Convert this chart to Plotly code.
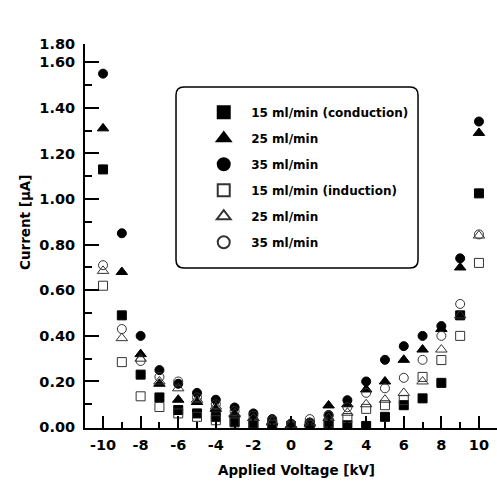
import plotly.graph_objects as go

voltage = [-10, -9, -8, -7, -6, -5, -4, -3, -2, -1, 0, 1, 2, 3, 4, 5, 6, 7, 8, 9, 10]

cond_15 = [1.13, 0.49, 0.23, 0.13, 0.075, 0.06, 0.045, 0.023, 0.015, 0.01, 0.005, 0.008, 0.012, 0.008, 0.005, 0.045, 0.096, 0.126, 0.194, 0.49, 1.025]
cond_25 = [1.31, 0.68, 0.32, 0.19, 0.12, 0.11, 0.08, 0.055, 0.04, 0.02, 0.01, 0.015, 0.095, 0.10, 0.165, 0.20, 0.295, 0.34, 0.43, 0.70, 1.29]
cond_35 = [1.55, 0.85, 0.40, 0.25, 0.19, 0.15, 0.12, 0.086, 0.06, 0.035, 0.015, 0.02, 0.053, 0.118, 0.20, 0.295, 0.355, 0.40, 0.443, 0.74, 1.34]
ind_15 = [0.62, 0.285, 0.135, 0.088, 0.06, 0.045, 0.03, 0.02, 0.015, 0.01, 0.005, 0.01, 0.02, 0.04, 0.08, 0.096, 0.118, 0.22, 0.294, 0.40, 0.72]
ind_25 = [0.685, 0.39, 0.30, 0.20, 0.17, 0.12, 0.09, 0.06, 0.04, 0.025, 0.01, 0.02, 0.04, 0.063, 0.10, 0.12, 0.15, 0.20, 0.34, 0.49, 0.84]
ind_35 = [0.71, 0.43, 0.29, 0.22, 0.20, 0.13, 0.10, 0.07, 0.05, 0.03, 0.01, 0.035, 0.05, 0.087, 0.15, 0.17, 0.216, 0.295, 0.40, 0.54, 0.845]

series_names = ["15 ml/min (conduction)", "25 ml/min", "35 ml/min",
                "15 ml/min (induction)", "25 ml/min", "35 ml/min"]

x_tickvals = [-10, -8, -6, -4, -2, 0, 2, 4, 6, 8, 10]
x_ticktext = ["-10", "-8", "-6", "-4", "-2", "0", "2", "4", "6", "8", "10"]
y_tickvals = [0, 0.2, 0.4, 0.6, 0.8, 1.0, 1.2, 1.4, 1.6, 1.68]
y_ticktext = ["0.00", "0.20", "0.40", "0.60", "0.80", "1.00", "1.20", "1.40", "1.60", "1.80"]

FONT = "DejaVu Sans"

fig = go.Figure()
styles = [
    (cond_15, "square", "black", 9),
    (cond_25, "triangle-up", "black", 10),
    (cond_35, "circle", "black", 9),
    (ind_15, "square-open", "#333333", 9),
    (ind_25, "triangle-up-open", "#333333", 10),
    (ind_35, "circle-open", "#333333", 9),
]
for i, (vals, sym, col, sz) in enumerate(styles):
    fig.add_trace(go.Scatter(
        x=voltage, y=vals, mode="markers", name=series_names[i],
        legendgroup=f"g{i}",
        marker=dict(symbol=sym, size=sz, color=col, line=dict(width=1, color=col)),
    ))

# legend frame with rounded corners (paper coordinates)
x0, x1, y0, y1 = 0.2209, 0.8083, 0.4167, 0.888
rx, ry = 0.0194, 0.0208
path = (f"M {x0+rx},{y0} L {x1-rx},{y0} Q {x1},{y0} {x1},{y0+ry} "
        f"L {x1},{y1-ry} Q {x1},{y1} {x1-rx},{y1} L {x0+rx},{y1} "
        f"Q {x0},{y1} {x0},{y1-ry} L {x0},{y0+ry} Q {x0},{y0} {x0+rx},{y0} Z")
fig.add_shape(type="path", path=path, xref="paper", yref="paper",
              line=dict(color="black", width=1.5), fillcolor="rgba(0,0,0,0)")

fig.update_layout(
    width=497, height=485,
    margin=dict(l=85, r=0, t=44, b=57),
    paper_bgcolor="white", plot_bgcolor="white",
    font=dict(family=FONT, color="black"),
    legend=dict(x=0.27, y=0.86, xanchor="left", yanchor="top",
                bgcolor="rgba(0,0,0,0)", borderwidth=0,
                font=dict(family=FONT, size=12, color="black", weight="bold"),
                itemsizing="constant", itemwidth=45, tracegroupgap=7,
                traceorder="grouped"),
    xaxis=dict(range=[-10.96, 10.96], showgrid=False, zeroline=False,
               showline=True, linecolor="black", linewidth=2,
               tickmode="array", tickvals=x_tickvals, ticktext=x_ticktext,
               ticks="inside", ticklen=12, tickwidth=2, tickcolor="black",
               ticklabelstandoff=3,
               tickfont=dict(family=FONT, size=14.5, color="black", weight="bold"),
               minor=dict(ticks="inside", ticklen=6, tickwidth=2, tickcolor="black",
                          tickmode="linear", tick0=-11, dtick=1, showgrid=False)),
    yaxis=dict(range=[-0.004, 1.68], showgrid=False, zeroline=False,
               showline=True, linecolor="black", linewidth=2,
               tickmode="array", tickvals=y_tickvals, ticktext=y_ticktext,
               ticks="inside", ticklen=14, tickwidth=2, tickcolor="black",
               ticklabelstandoff=5,
               tickfont=dict(family=FONT, size=14.5, color="black", weight="bold"),
               minor=dict(ticks="inside", ticklen=7, tickwidth=2, tickcolor="black",
                          tickmode="linear", tick0=0, dtick=0.1, showgrid=False)),
    annotations=[
        dict(text="Applied Voltage [kV]", xref="paper", yref="paper",
             x=(296 - 85) / 412, y=(428 - 470) / 384, xanchor="center", yanchor="middle",
             showarrow=False, font=dict(family=FONT, size=13.5, color="black", weight="bold")),
        dict(text="Current [μA]", xref="paper", yref="paper",
             x=(25 - 85) / 412, y=(428 - 223) / 384, xanchor="center", yanchor="middle",
             textangle=-90, showarrow=False,
             font=dict(family=FONT, size=13.5, color="black", weight="bold")),
    ],
)

fig.write_html("out.html")
